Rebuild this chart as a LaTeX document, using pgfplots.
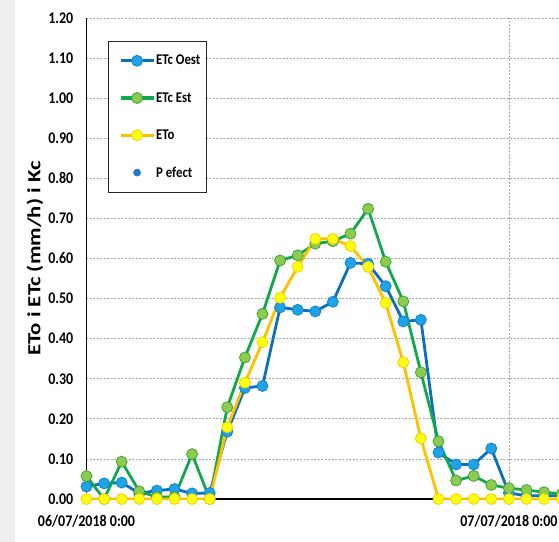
\documentclass[border=0pt]{standalone}
\usepackage{pgfplots}
\pgfplotsset{compat=1.18}
\usepackage{pgfplotstable}
\usepackage{fontspec}
\setmainfont{Carlito}
\definecolor{bline}{HTML}{0B6FC0}
\definecolor{bfill}{HTML}{1FA2E6}
\definecolor{gline}{HTML}{10A84A}
\definecolor{gfill}{HTML}{8CCB4E}
\definecolor{gedge}{HTML}{3FA53A}
\definecolor{yline}{HTML}{FFC000}
\definecolor{yfill}{HTML}{FFFF10}
\definecolor{yedge}{HTML}{F5D000}
\definecolor{pdot}{HTML}{1F78C8}
\definecolor{gridc}{HTML}{A8A8A8}

\pgfplotstableread{
h v
0 0.031
1 0.039
2 0.041
3 0.014
4 0.021
5 0.025
6 0.014
7 0.015
8 0.168
9 0.277
10 0.282
11 0.478
12 0.472
13 0.468
14 0.492
15 0.589
16 0.587
17 0.531
18 0.443
19 0.447
20 0.116
21 0.086
22 0.086
23 0.126
24 0.015
25 0.008
26 0.008
27 0.008
}\oest

\pgfplotstableread{
h v
0 0.057
1 0.0
2 0.093
3 0.019
4 0.005
5 0.005
6 0.112
7 0.0
8 0.229
9 0.353
10 0.462
11 0.595
12 0.608
13 0.637
14 0.643
15 0.662
16 0.724
17 0.592
18 0.493
19 0.316
20 0.144
21 0.046
22 0.0575
23 0.035
24 0.027
25 0.0225
26 0.017
27 0.0125
}\est

\pgfplotstableread{
h v
0 0
1 0
2 0
3 0
4 0
5 0
6 0
7 0
8 0.179
9 0.290
10 0.391
11 0.502
12 0.579
13 0.649
14 0.649
15 0.631
16 0.579
17 0.489
18 0.341
19 0.151
20 0
21 0
22 0
23 0
24 0
25 0
26 0
27 0
}\eto

\newcommand{\tfont}{\fontsize{14}{16}\selectfont\bfseries}
\newcommand{\lfont}{\fontsize{12.8}{15}\selectfont\bfseries}

\begin{document}
\begin{tikzpicture}
\begin{axis}[
  scale only axis,
  width=528pt, height=481pt,
  xmin=0, xmax=30, ymin=0, ymax=1.2,
  axis x line=bottom, axis y line=left,
  axis line style={-, black, line width=1.6pt},
  major tick length=0pt,
  xtick={0,24},
  xticklabels={\scalebox{1}[1.16]{06/07/2018 0:00},\scalebox{1}[1.16]{07/07/2018 0:00}},
  ytick={0,0.1,0.2,0.3,0.4,0.5,0.6,0.7,0.8,0.9,1.0,1.1,1.2},
  /pgf/number format/assume math mode=true,
  yticklabel={\scalebox{1}[1.16]{\pgfmathprintnumber[fixed,fixed zerofill,precision=2]{\tick}}},
  yticklabel style={font=\tfont, inner sep=0pt, xshift=-13pt},
  xticklabel style={font=\tfont, inner sep=0pt, anchor=north, yshift=-16pt},
  xmajorgrids, ymajorgrids,
  grid style={gridc, line width=0.7pt, dash pattern=on 2pt off 1.5pt},
  every axis y label/.style={at={(axis description cs:-0.0975,0.5)}, rotate=90, anchor=center},
  ylabel={\scalebox{1.23}[1]{ETo i ETc (mm/h) i Kc}},
  ylabel style={font=\fontsize{18.5}{20}\selectfont\bfseries},
  legend style={at={(axis description cs:0.0407,0.9522)}, anchor=north west,
    draw=black!85, fill=white, font=\lfont,
    inner xsep=5pt, inner ysep=14pt, row sep=26pt,
    nodes={inner xsep=1pt, inner ysep=0pt}},
  legend cell align=left,
  legend image code/.code={\path (0pt,0pt); \draw[mark repeat=2,mark phase=2,#1,line width=3.2pt] plot coordinates {(6pt,0pt) (22.5pt,0pt) (39pt,0pt)};},
]
\coordinate (O) at (rel axis cs:0,0);
\addplot[color=bline, line width=2.8pt, mark=*, mark size=5.5pt,
  mark options={fill=bfill, draw=bline!60!bfill, line width=0.8pt}] table[x=h,y=v] {\oest};
\addlegendentry{\scalebox{1}[1.16]{ETc Oest}}
\addplot[color=gline, line width=2.8pt, mark=*, mark size=5.5pt,
  mark options={fill=gfill, draw=gedge, line width=0.8pt}] table[x=h,y=v] {\est};
\addlegendentry{\scalebox{1}[1.16]{ETc Est}}
\addplot[color=yline, line width=2.8pt, mark=*, mark size=5.5pt,
  mark options={fill=yfill, draw=yedge, line width=0.8pt}] table[x=h,y=v] {\eto};
\addlegendentry{\scalebox{1}[1.16]{ETo}}
\addlegendimage{only marks, mark=*, mark size=3.6pt, color=pdot, mark options={line width=0.4pt}}
\addlegendentry{\scalebox{1}[1.16]{P efect}}
\end{axis}
\pgfresetboundingbox
\path (O) ++(-86.5pt,-42pt) rectangle ++(559pt,541pt);
\shade[left color=black!6, right color=black!11] (O) ++(-86.5pt,-42pt) rectangle ++(15pt,541pt);
\end{tikzpicture}
\end{document}
